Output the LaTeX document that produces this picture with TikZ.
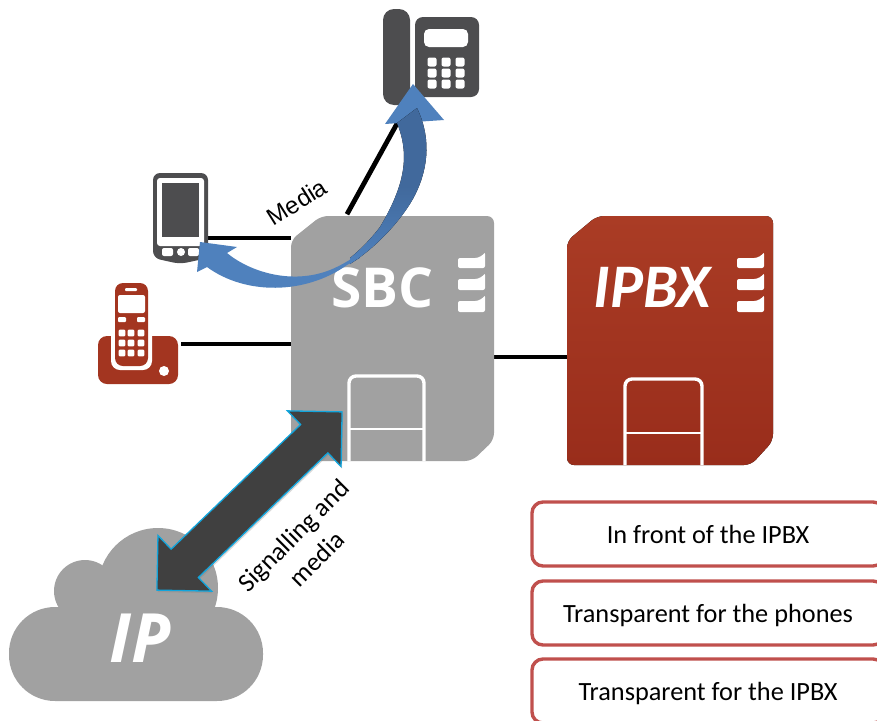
\documentclass[tikz,border=0pt]{standalone}
\usepackage{fontspec}
\setmainfont{Carlito}
\newfontfamily\labelfont{Liberation Sans}
\newfontfamily\chipfont{Open Sans}
\usetikzlibrary{positioning,shapes.arrows,shadows}

\definecolor{chipgrey}{HTML}{A1A1A1}
\definecolor{iconhue}{HTML}{4D4D4F}
\definecolor{arrowhue}{HTML}{404040}
\definecolor{rusttop}{HTML}{AA3C25}
\definecolor{rustlow}{HTML}{992D1B}
\definecolor{cordhue}{HTML}{A33520}
\definecolor{flowblue}{HTML}{4F81BD}
\definecolor{flowdark}{HTML}{41699C}
\definecolor{boxred}{HTML}{C0504D}
\definecolor{edgecyan}{HTML}{12A5DC}

\tikzset{
	wire/.style = {line width = 4.8pt, black},
	frame/.style = {rectangle, inner sep = 0pt, outer sep = 0pt},
	slot/.style = {white, line width = 3.4pt, rounded corners = 7pt},
	note/.style = {rectangle, draw = boxred, line width = 3.4pt, rounded corners = 11pt, fill = white,
		minimum width = 352pt, minimum height = 64pt, text = black, text height = 21pt, text depth = 3pt,
		font = \fontsize{26.3}{30}\selectfont}
}

% the three white tabs on a chip
\newcommand{\chiptabs}[2]{
	\foreach \tabtop/\tablow in {0/16, 21/38, 43/60}
		\fill[white, rounded corners = 2pt, shift = {(#1,#2)}]
			(0,\tabtop+6) -- (15,\tabtop+6) .. controls (21,\tabtop+6) and (25,\tabtop+3) .. (27,\tabtop)
			-- (27,\tablow) -- (0,\tablow) -- cycle;
}

\begin{document}
\begin{tikzpicture}[x = 1pt, y = -1pt]
	\useasboundingbox (0,0) rectangle (877,720);

	% frames for the connectors
	\node[frame, minimum width = 203pt, minimum height = 245pt] (sbc) at (392.5,338.5) {};
	\node[frame, minimum width = 206pt, minimum height = 249pt] (ipbx) at (670,340.5) {};
	\node[frame, minimum width = 97pt, minimum height = 97pt] (desk) at (431,57) {};
	\node[frame, minimum width = 55pt, minimum height = 91pt] (mobile) at (180.5,219) {};
	\node[frame, minimum width = 80pt, minimum height = 101pt] (cordless) at (139,334) {};

	\path (mobile.east |- 0,238) edge[wire] (sbc.west |- 0,238);
	\path (cordless.east |- 0,344) edge[wire, shorten < = 2pt] (sbc.west |- 0,344);
	\path (sbc.east |- 0,357) edge[wire] (ipbx.west |- 0,357);
	\path (sbc.north -| 346,0) edge[wire, shorten < = 2pt] (desk.south -| 407,0);

	% SBC chip
	\fill[chipgrey, rounded corners = 7pt] (291,240) -- (321,216) -- (494,216) -- (494,440) -- (472,461) -- (291,461) -- cycle;
	\draw[slot] (349,461) -- (349,376) -- (424,376) -- (424,461);
	\draw[white, line width = 2pt] (349,429) -- (424,429);
	\chiptabs{458}{252}
	\node[text = white, font = \chipfont\bfseries\fontsize{55}{59}\selectfont] (sbctext) at (382.5,288) {SBC};

	% IPBX chip
	\fill[top color = rusttop, bottom color = rustlow, rounded corners = 7pt] (567,241) -- (597,216) -- (773,216) -- (773,441) -- (751,465) -- (567,465) -- cycle;
	\draw[slot] (625,465) -- (625,379) -- (702,379) -- (702,465);
	\draw[white, line width = 2pt] (625,433) -- (702,433);
	\chiptabs{737}{252}
	\node[text = white, font = \bfseries\itshape\fontsize{62}{66}\selectfont] (ipbxtext) at (652,287) {IPBX};

	% desk phone
	\fill[iconhue, rounded corners = 11pt] (383,9) rectangle (410,105);
	\fill[iconhue, rounded corners = 8pt] (415,17) rectangle (479,97);
	\fill[white, rounded corners = 5pt] (424,29) rectangle (468,47);
	\foreach \keyx in {432,446,460}
		\foreach \keyy in {62,73,84}
			\fill[white, rounded corners = 2pt] (\keyx-4.5,\keyy-4.5) rectangle (\keyx+4.5,\keyy+4.5);

	% mobile
	\fill[iconhue, rounded corners = 7pt] (153,173) -- (208,173) -- (208,258) -- (180,264) -- (153,258) -- cycle;
	\fill[white, rounded corners = 3pt] (157,178) rectangle (204,246);
	\fill[iconhue] (162,183) rectangle (199,237);
	\fill[white, rounded corners = 2pt] (162,248) rectangle (173,256);
	\fill[white, rounded corners = 2pt] (188,248) rectangle (199,256);
	\fill[white] (181,252) circle (4);

	% cordless
	\fill[cordhue, rounded corners = 9pt] (98,336) rectangle (178,384);
	\fill[white, rounded corners = 9pt] (111,325) rectangle (152,370);
	\fill[cordhue, rounded corners = 8pt] (115,283) rectangle (148,366);
	\fill[white, rounded corners = 1pt] (125,288) rectangle (137,291);
	\fill[white, rounded corners = 2pt] (118,295) rectangle (145,313);
	\fill[white, rounded corners = 1pt] (118,317) rectangle (126,322);
	\fill[white, rounded corners = 1pt] (137,317) rectangle (145,322);
	\foreach \keyx in {122,131,141}
		\foreach \keyy in {333,343,353}
			\fill[white, rounded corners = 1pt] (\keyx-3.3,\keyy-3.3) rectangle (\keyx+3.3,\keyy+3.3);
	\fill[white] (164,371) circle (5);

	% cloud
	\fill[chipgrey] (158,588) circle (60);
	\fill[chipgrey] (85,591) circle (31);
	\fill[chipgrey, rounded corners = 46pt] (9,607) rectangle (263,701);
	\node[text = white, font = \chipfont\bfseries\itshape\fontsize{68}{72}\selectfont] (iptext) at (140,638) {IP};

	% media flow
	\fill[flowblue] (413,84) -- (444,120) -- (385,124) -- cycle;
	\fill[flowblue] (200,242) -- (237,247) -- (227,253) .. controls (250,272) and (292,285) .. (330,270)
		.. controls (340,266) and (350,260) .. (357,255) -- (360,258) -- (347,265)
		.. controls (305,295) and (245,295) .. (207,267) -- (197,272) -- cycle;
	\fill[top color = flowdark, bottom color = flowblue, middle color = flowdark] (350,264) .. controls (380,245) and (405,215) .. (415,195)
		.. controls (430,165) and (430,135) .. (417,108) -- (397,123)
		.. controls (410,155) and (405,185) .. (380,227) .. controls (370,240) and (360,250) .. (350,258) -- cycle;

	% signalling flow
	\node[double arrow, rotate = 43.9, draw = edgecyan, line width = 1.3pt, fill = arrowhue, inner xsep = 0pt, inner ysep = 19pt,
		minimum height = 257pt, double arrow head extend = 19pt,
		drop shadow = {shadow xshift = 1pt, shadow yshift = -2pt, opacity = 0.3}] (signalflow) at (249.5,501) {};

	\node[rotate = 32, font = \labelfont\fontsize{24}{28}\selectfont] (medialabel) at (297,202) {Media};
	\node[rotate = 45, align = center, font = \fontsize{26}{33}\selectfont] (signallabel) at (305,547) {Signalling and\\media};

	% the notes on the right
	\node[note] (front) at (708,534) {In front of the IPBX};
	\node[note] (phones) at (708,613) {Transparent for the phones};
	\node[note] (transparent) at (708,691) {Transparent for the IPBX};
\end{tikzpicture}
\end{document}
